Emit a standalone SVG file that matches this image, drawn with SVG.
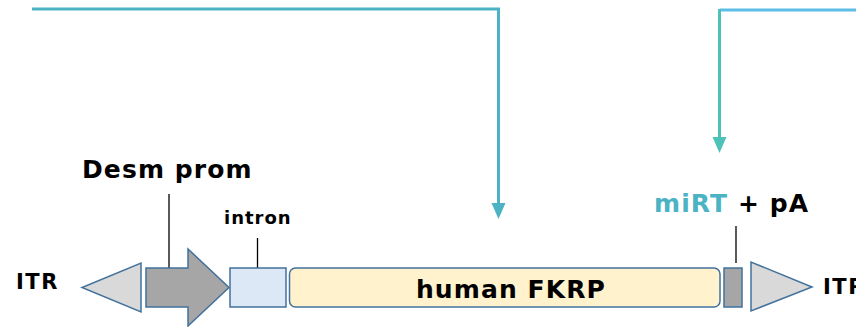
<svg xmlns="http://www.w3.org/2000/svg" width="856" height="327" viewBox="0 0 856 327">
  <style>
    .lbl { font-family: "DejaVu Sans", Verdana, sans-serif; font-weight: bold; fill: #000; }
    .big { font-size: 25px; letter-spacing: 1.1px; }
    .small { font-size: 18px; letter-spacing: 1px; }
    .itr { font-size: 21px; letter-spacing: 1.5px; }
    .part { stroke: #41719c; stroke-width: 1.5; }
    .tick { stroke: #000; stroke-width: 1.3; fill: none; }
    .lead { fill: none; stroke-width: 3; }
  </style>

  <!-- connectors -->
  <g id="connectors">
    <path class="lead" d="M32,9 H498.5 V203" stroke="#4bb3c4"/>
    <path d="M491.5,203 H505.5 L498.5,219 Z" fill="#4bb3c4"/>
    <path class="lead" d="M720,10 H856" stroke="#5cbde6"/>
    <path class="lead" d="M719.5,9 V137" stroke="#4ec2b8"/>
    <path d="M712.5,137 H726.5 L719.5,153 Z" fill="#4ec2b8"/>
    <line class="tick" x1="169" y1="194" x2="169" y2="268"/>
    <line class="tick" x1="257.5" y1="238" x2="257.5" y2="268"/>
    <line class="tick" x1="736" y1="226" x2="736" y2="263"/>
  </g>

  <!-- left ITR -->
  <g id="itr-left">
    <text class="lbl itr" x="16" y="289">ITR</text>
    <path class="part" d="M141,263 V312 L82,287.5 Z" fill="#d9d9d9"/>
  </g>

  <!-- desmin promoter -->
  <g id="desm-prom">
    <text class="lbl big" x="82" y="178">Desm prom</text>
    <path class="part" d="M146,268 H188 V249 L229,287.5 L188,326 V307 H146 Z" fill="#a6a6a6"/>
  </g>

  <!-- intron -->
  <g id="intron">
    <text class="lbl small" x="224" y="224">intron</text>
    <rect class="part" x="230" y="268" width="56" height="39" fill="#dde8f6"/>
  </g>

  <!-- FKRP coding sequence -->
  <g id="fkrp">
    <rect class="part" x="289.5" y="268" width="430.5" height="39" rx="6" fill="#fff2cc"/>
    <text class="lbl big" x="511" y="298" text-anchor="middle">human FKRP</text>
  </g>

  <!-- miRT + polyA -->
  <g id="mirt-pa">
    <text class="lbl big" x="654" y="212"><tspan fill="#4bb3c4">miRT</tspan> + pA</text>
    <rect class="part" x="724" y="268" width="18" height="39" fill="#a6a6a6"/>
  </g>

  <!-- right ITR -->
  <g id="itr-right">
    <path class="part" d="M751,262 V311 L812,287 Z" fill="#d9d9d9"/>
    <text class="lbl itr" x="823" y="294">ITR</text>
  </g>
</svg>
